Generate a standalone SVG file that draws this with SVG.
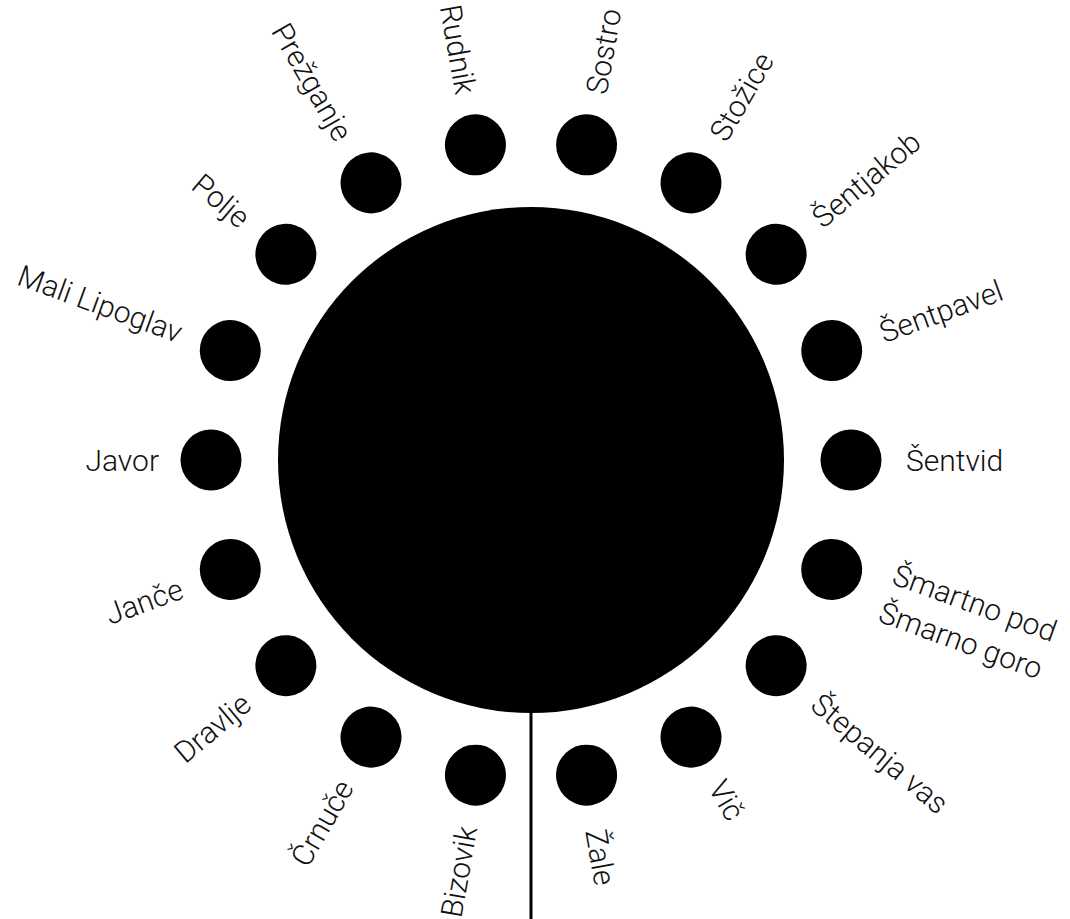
<svg xmlns="http://www.w3.org/2000/svg" width="1070" height="919" viewBox="0 0 1070 919">
<style>
.dot{fill:#000}
.lbl{font-family:Roboto,"Liberation Sans",sans-serif;font-weight:300;font-size:30px;fill:#111}
</style>
<rect width="1070" height="919" fill="#fff"/>
<g id="connectors">
<line x1="531" y1="700" x2="531" y2="919" stroke="#000" stroke-width="3"/>
</g>
<g id="center"><circle cx="531" cy="460" r="253" class="dot"/></g>
<g id="n-sostro" transform="translate(531,460) rotate(-80)"><circle cx="320" cy="0" r="30.5" class="dot"/><text x="372" y="0" dy="0.37em" class="lbl">Sostro</text></g>
<g id="n-stozice" transform="translate(531,460) rotate(-60)"><circle cx="320" cy="0" r="30.5" class="dot"/><text x="372" y="0" dy="0.37em" class="lbl">Stožice</text></g>
<g id="n-sentjakob" transform="translate(531,460) rotate(-40)"><circle cx="320" cy="0" r="30.5" class="dot"/><text x="372" y="0" dy="0.37em" class="lbl">Šentjakob</text></g>
<g id="n-sentpavel" transform="translate(531,460) rotate(-20)"><circle cx="320" cy="0" r="30.5" class="dot"/><text x="372" y="0" dy="0.37em" class="lbl">Šentpavel</text></g>
<g id="n-sentvid" transform="translate(531,460) rotate(0)"><circle cx="320" cy="0" r="30.5" class="dot"/><text x="375" y="0" dy="0.37em" class="lbl">Šentvid</text></g>
<g id="n-smartno" transform="translate(531,460) rotate(20)"><circle cx="320" cy="0" r="30.5" class="dot"/><text class="lbl"><tspan x="380" y="-7">Šmartno pod</tspan><tspan x="380" y="33">Šmarno goro</tspan></text></g>
<g id="n-stepanja" transform="translate(531,460) rotate(40)"><circle cx="320" cy="0" r="30.5" class="dot"/><text x="372" y="0" dy="0.37em" class="lbl">Štepanja vas</text></g>
<g id="n-vic" transform="translate(531,460) rotate(60)"><circle cx="320" cy="0" r="30.5" class="dot"/><text x="372" y="0" dy="0.37em" class="lbl">Vič</text></g>
<g id="n-zale" transform="translate(531,460) rotate(80)"><circle cx="320" cy="0" r="30.5" class="dot"/><text x="375" y="0" dy="0.37em" class="lbl">Žale</text></g>
<g id="n-bizovik" transform="translate(531,460) rotate(-80)"><circle cx="-320" cy="0" r="30.5" class="dot"/><text x="-372" y="0" dy="0.37em" text-anchor="end" class="lbl">Bizovik</text></g>
<g id="n-crnuce" transform="translate(531,460) rotate(-60)"><circle cx="-320" cy="0" r="30.5" class="dot"/><text x="-372" y="0" dy="0.37em" text-anchor="end" class="lbl">Črnuče</text></g>
<g id="n-dravlje" transform="translate(531,460) rotate(-40)"><circle cx="-320" cy="0" r="30.5" class="dot"/><text x="-372" y="0" dy="0.37em" text-anchor="end" class="lbl">Dravlje</text></g>
<g id="n-jance" transform="translate(531,460) rotate(-20)"><circle cx="-320" cy="0" r="30.5" class="dot"/><text x="-372" y="0" dy="0.37em" text-anchor="end" class="lbl">Janče</text></g>
<g id="n-javor" transform="translate(531,460) rotate(0)"><circle cx="-320" cy="0" r="30.5" class="dot"/><text x="-372" y="0" dy="0.37em" text-anchor="end" class="lbl">Javor</text></g>
<g id="n-malilipoglav" transform="translate(531,460) rotate(20)"><circle cx="-320" cy="0" r="30.5" class="dot"/><text x="-372" y="0" dy="0.37em" text-anchor="end" class="lbl">Mali Lipoglav</text></g>
<g id="n-polje" transform="translate(531,460) rotate(40)"><circle cx="-320" cy="0" r="30.5" class="dot"/><text x="-372" y="0" dy="0.37em" text-anchor="end" class="lbl">Polje</text></g>
<g id="n-prezganje" transform="translate(531,460) rotate(60)"><circle cx="-320" cy="0" r="30.5" class="dot"/><text x="-372" y="0" dy="0.37em" text-anchor="end" class="lbl">Prežganje</text></g>
<g id="n-rudnik" transform="translate(531,460) rotate(80)"><circle cx="-320" cy="0" r="30.5" class="dot"/><text x="-372" y="0" dy="0.37em" text-anchor="end" class="lbl">Rudnik</text></g>
</svg>
